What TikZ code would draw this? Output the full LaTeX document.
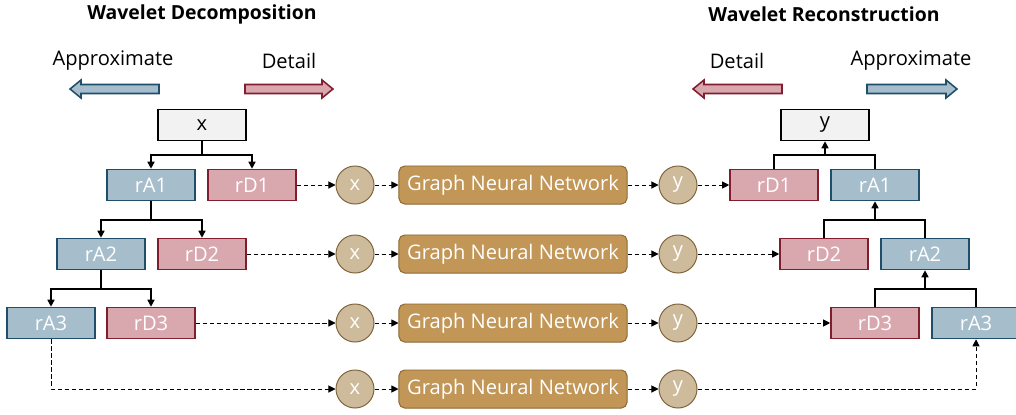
\documentclass[tikz,border=0pt]{standalone}
\usepackage{fontspec}
\setmainfont{Open Sans}
\usetikzlibrary{arrows.meta}
\definecolor{afill}{HTML}{A6BDCC}
\definecolor{aline}{HTML}{1F4E6B}
\definecolor{dfill}{HTML}{D9A8AF}
\definecolor{dline}{HTML}{801E2D}
\definecolor{gfill}{HTML}{F2F2F2}
\definecolor{cfill}{HTML}{CDBB9B}
\definecolor{cline}{HTML}{7F643C}
\definecolor{nfill}{HTML}{C19656}
\definecolor{nline}{HTML}{8C6932}
\begin{document}
\begin{tikzpicture}[x=0.025cm,y=-0.025cm,
  every node/.style={font=\fontsize{14.3}{17}\selectfont},
  box/.style={draw, line width=1.1pt, minimum width=2.2cm, minimum height=0.775cm, inner sep=0pt},
  abox/.style={box, fill=afill, draw=aline, text=white},
  dbox/.style={box, fill=dfill, draw=dline, text=white},
  gbox/.style={box, fill=gfill, draw=black, text=black},
  circ/.style={circle, minimum size=0.95cm, inner sep=0pt, fill=cfill, draw=cline, line width=0.7pt, text=white},
  gnn/.style={rectangle, rounded corners=4pt, minimum width=5.7cm, minimum height=0.95cm, inner sep=0pt, fill=nfill, draw=nline, line width=0.7pt, text=white},
  tree/.style={line width=1pt},
  treearr/.style={line width=1pt, -{Triangle[length=5pt,width=5pt]}},
  dashlink/.style={line width=0.7pt, dash pattern=on 3pt off 2pt, -{Triangle[length=5pt,width=5pt]}},
  bigblue/.style={fill=afill, draw=aline, line width=1.1pt},
  bigred/.style={fill=dfill, draw=dline, line width=1.1pt},
  title/.style={font=\fontsize{13.8}{17}\selectfont\bfseries},
  lab/.style={font=\fontsize{14.3}{17}\selectfont}
]
\useasboundingbox (0,0) rectangle (1016,414);

% titles and labels
\node[title] (t1) at (202,14) {Wavelet Decomposition};
\node[title] (t2) at (824,14) {Wavelet Reconstruction};
\node[lab] (l1) at (113,61) {Approximate};
\node[lab] (l2) at (289,61) {Detail};
\node[lab] (l3) at (737,61) {Detail};
\node[lab] (l4) at (911,61) {Approximate};

% big arrows
\draw[bigblue] (70,89) -- (81,80) -- (81,84.5) -- (159,84.5) -- (159,93.5) -- (81,93.5) -- (81,98) -- cycle;
\draw[bigred] (333,89) -- (322,80) -- (322,84.5) -- (245,84.5) -- (245,93.5) -- (322,93.5) -- (322,98) -- cycle;
\draw[bigred] (693,89) -- (704,80) -- (704,84.5) -- (782,84.5) -- (782,93.5) -- (704,93.5) -- (704,98) -- cycle;
\draw[bigblue] (957,89) -- (946,80) -- (946,84.5) -- (867,84.5) -- (867,93.5) -- (946,93.5) -- (946,98) -- cycle;

% left tree
\node[gbox] (x) at (202,125) {x};
\node[abox] (lA1) at (151,185) {rA1};
\node[dbox] (lD1) at (252,185) {rD1};
\node[abox] (lA2) at (101,254) {rA2};
\node[dbox] (lD2) at (202,254) {rD2};
\node[abox] (lA3) at (51,323) {rA3};
\node[dbox] (lD3) at (151,323) {rD3};

\coordinate (j1) at (202,155);
\coordinate (j2) at (151,220);
\coordinate (j3) at (101,289);
\draw[tree] (x.south) -- (j1);
\draw[treearr] (j1) -| (lA1.north);
\draw[treearr] (j1) -| (lD1.north);
\draw[tree] (lA1.south) -- (j2);
\draw[treearr] (j2) -| (lA2.north);
\draw[treearr] (j2) -| (lD2.north);
\draw[tree] (lA2.south) -- (j3);
\draw[treearr] (j3) -| (lA3.north);
\draw[treearr] (j3) -| (lD3.north);

% middle
\foreach \i/\yy in {1/185,2/254,3/323,4/389}{
  \node[circ] (cx\i) at (355,\yy) {x};
  \node[gnn] (g\i) at (513,\yy) {Graph Neural Network};
  \node[circ] (cy\i) at (678,\yy) {y};
  \draw[dashlink] (cx\i) -- (g\i);
  \draw[dashlink] (g\i) -- (cy\i);
}

% right tree
\node[gbox] (y) at (825,125) {y};
\node[dbox] (rD1) at (774,185) {rD1};
\node[abox] (rA1) at (875,185) {rA1};
\node[dbox] (rD2) at (824,254) {rD2};
\node[abox] (rA2) at (925,254) {rA2};
\node[dbox] (rD3) at (875,323) {rD3};
\node[abox] (rA3) at (976,323) {rA3};

\coordinate (k1) at (825,155);
\coordinate (k2) at (875,220);
\coordinate (k3) at (925,289);
\draw[tree] (rD1.north) |- (k1) -| (rA1.north);
\draw[treearr] (k1) -- (y.south);
\draw[tree] (rD2.north) |- (k2) -| (rA2.north);
\draw[treearr] (k2) -- (rA1.south);
\draw[tree] (rD3.north) |- (k3) -| (rA3.north);
\draw[treearr] (k3) -- (rA2.south);

% dashed links
\draw[dashlink] (lD1) -- (cx1);
\draw[dashlink] (lD2) -- (cx2);
\draw[dashlink] (lD3) -- (cx3);
\draw[dashlink] (lA3.south) |- (cx4);
\draw[dashlink] (cy1) -- (rD1);
\draw[dashlink] (cy2) -- (rD2);
\draw[dashlink] (cy3) -- (rD3);
\draw[dashlink] (cy4) -| (rA3.south);
\end{tikzpicture}
\end{document}
